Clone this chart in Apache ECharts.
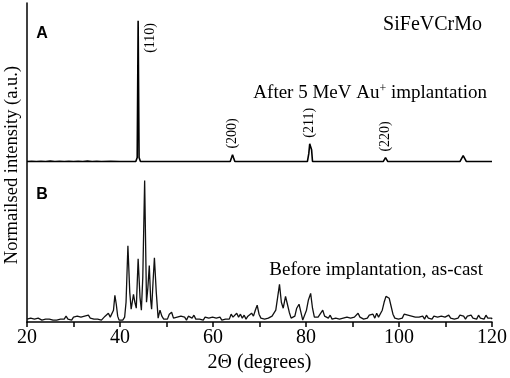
<!DOCTYPE html>
<html>
<head>
<meta charset="utf-8">
<script src="https://cdn.jsdelivr.net/npm/echarts@6/dist/echarts.min.js"></script>
<style>
  html, body { margin: 0; padding: 0; background: #fff; }
  #chart { width: 510px; height: 378px; }
</style>
</head>
<body>
<div id="chart"></div>
<script>
// 2Θ range and ticks
const xMin = 20
const xMax = 120
const xTickStep = 10
const xLabelStep = 20

// vertical shift of trace A above trace B (same a.u. as the traces)
const offsetA = 162
const yMax = 322

// Trace A: after 5 MeV Au+ implantation [2Θ, intensity]
const traceA = [
  [20, 0], [21, 0.3], [22, 0], [23, 0.3], [24, 0], [25, 0.4], [26, 0], [27, 0.3], [28, 0],
  [29, 0.3], [30, 0], [31, 0.3], [32, 0], [33, 0.4], [34, 0], [35, 0.3], [36, 0], [38, 0.3],
  [40, 0], [42, 0], [43.4, 0], [43.7, 4], [43.9, 142], [44.1, 4], [44.4, 0], [47.1, 0],
  [47.4, 1.2], [47.8, 0], [63.7, 0], [64.0, 4], [64.2, 7], [64.4, 4], [64.7, 0],
  [80.3, 0], [80.6, 8], [80.8, 18], [81.0, 15], [81.2, 12], [81.4, 0], [96.6, 0],
  [97.1, 4], [97.6, 0], [108.8, 0], [109.0, 1], [109.2, 0], [113.1, 0], [113.8, 6],
  [114.5, 0], [120, 0]
]

// Trace B: before implantation, as-cast [2Θ, intensity]
const traceB = [
  [20, 3], [20.4, 2], [20.8, 4], [21.2, 2], [21.6, 3], [22, 2], [22.4, 4], [22.8, 3], [23.2, 2],
  [23.6, 4], [24, 3], [24.4, 2], [24.8, 3], [25.2, 4], [25.6, 2], [26, 3], [26.4, 2], [26.8, 4],
  [27.2, 3], [27.6, 5], [28, 3], [28.4, 6], [28.8, 3], [29.2, 4], [29.6, 2], [30, 5], [30.4, 3],
  [30.8, 6], [31.2, 4], [31.6, 5], [32, 3], [32.4, 6], [32.8, 4], [33.2, 7], [33.6, 4], [34, 6],
  [34.4, 3], [34.8, 5], [35.2, 3], [35.6, 4], [36, 2], [36.4, 4], [36.8, 6], [37.2, 4], [37.5, 9],
  [37.9, 5], [38.3, 3], [38.6, 12], [38.9, 27], [39.2, 18], [39.5, 6], [39.8, 2], [40.2, 4],
  [40.6, 2], [41, 5], [41.3, 20], [41.7, 77], [42.1, 30], [42.4, 13], [42.7, 22], [42.9, 28],
  [43.2, 20], [43.5, 14], [43.9, 64], [44.3, 25], [44.6, 12], [44.9, 45], [45.3, 143], [45.7, 20],
  [46.0, 35], [46.3, 57], [46.6, 22], [46.8, 13], [47.1, 40], [47.4, 65], [47.8, 30], [48.2, 4],
  [48.6, 12], [49, 6], [49.4, 3], [49.8, 5], [50.2, 3], [50.6, 8], [51.1, 10], [51.5, 4], [51.9, 2],
  [52.3, 5], [52.7, 3], [53.1, 6], [53.5, 4], [53.9, 5], [54.3, 2], [54.7, 6], [55.1, 8], [55.5, 4],
  [55.9, 7], [56.3, 3], [56.7, 5], [57.1, 3], [57.5, 4], [57.9, 2], [58.3, 5], [58.7, 3], [59.1, 4],
  [59.5, 2], [59.9, 5], [60.3, 3], [60.7, 4], [61.1, 3], [61.5, 5], [61.9, 2], [62.3, 4], [62.7, 3],
  [63.1, 5], [63.5, 3], [63.9, 8], [64.3, 5], [64.7, 4], [65.1, 9], [65.5, 5], [65.9, 8], [66.3, 4],
  [66.7, 7], [67.1, 3], [67.5, 6], [67.9, 4], [68.3, 9], [68.7, 6], [69.1, 12], [69.5, 17], [69.9, 8],
  [70.3, 4], [70.7, 6], [71.1, 3], [71.5, 5], [71.9, 4], [72.3, 3], [72.7, 6], [73.1, 4], [73.5, 12],
  [73.9, 25], [74.3, 38], [74.7, 20], [75.1, 14], [75.6, 26], [76.0, 18], [76.4, 10], [76.8, 4],
  [77.2, 2], [77.6, 6], [78.0, 14], [78.5, 18], [78.9, 10], [79.3, 2], [79.7, 3], [80.1, 12],
  [80.5, 22], [81.0, 29], [81.4, 14], [81.8, 5], [82.2, 3], [82.6, 5], [83.0, 4], [83.6, 12],
  [84.0, 6], [84.4, 8], [84.8, 4], [85.2, 7], [85.6, 3], [86, 5], [86.4, 4], [86.8, 6], [87.2, 3],
  [87.6, 5], [88, 4], [88.4, 3], [88.8, 5], [89.2, 3], [89.6, 4], [90, 3], [90.4, 5], [90.8, 3],
  [91.2, 9], [91.6, 5], [92, 6], [92.4, 3], [92.8, 5], [93.2, 4], [93.6, 7], [94, 5], [94.4, 8],
  [94.8, 4], [95.2, 9], [95.6, 5], [96, 6], [96.4, 12], [96.8, 20], [97.2, 26], [97.5, 28],
  [97.9, 24], [98.3, 16], [98.7, 8], [99.1, 4], [99.5, 2], [99.9, 3], [100.3, 5], [100.7, 4],
  [101.1, 8], [101.5, 6], [101.9, 7], [102.3, 5], [102.7, 6], [103.1, 4], [103.5, 5], [103.9, 3],
  [104.3, 5], [104.7, 4], [105.1, 6], [105.5, 3], [105.9, 7], [106.3, 4], [106.7, 5], [107.1, 3],
  [107.5, 6], [107.9, 4], [108.3, 5], [108.7, 3], [109.1, 6], [109.5, 4], [109.9, 5], [110.3, 3],
  [110.7, 7], [111.1, 4], [111.5, 6], [111.9, 3], [112.3, 5], [112.7, 4], [113.1, 7], [113.5, 5],
  [113.9, 6], [114.3, 3], [114.7, 6], [115.1, 4], [115.5, 7], [115.9, 4], [116.3, 5], [116.7, 3],
  [117.1, 7], [117.5, 4], [117.9, 6], [118.3, 3], [118.7, 7], [119.1, 4], [119.5, 6], [119.9, 4],
  [120, 3]
]

// peak indices on trace A: name, 2Θ, peak height
const peakNames = ['(110)', '(200)', '(211)', '(220)']
const peakPos = [43.9, 64.2, 80.8, 97.1]
const peakHeight = [142, 7, 18, 4]

const serif = 'Liberation Serif'
const chart = echarts.init(document.getElementById('chart'))

chart.setOption({
  animation: false,
  grid: { left: 27, right: 18, top: 3, bottom: 53 },
  xAxis: {
    type: 'value',
    min: xMin,
    max: xMax,
    interval: xTickStep,
    name: '2Θ (degrees)',
    nameLocation: 'middle',
    nameGap: 27,
    nameTextStyle: { fontFamily: serif, fontSize: 20, color: '#000' },
    axisLine: { lineStyle: { color: '#000', width: 1.5 } },
    axisTick: { length: 5, lineStyle: { color: '#000', width: 1.5 } },
    axisLabel: {
      margin: 6,
      fontFamily: serif,
      fontSize: 20,
      color: '#000',
      formatter: (v) => (v % xLabelStep === 0 ? String(v) : '')
    },
    splitLine: { show: false }
  },
  yAxis: {
    type: 'value',
    min: 0,
    max: yMax,
    axisLine: { show: true, onZero: false, lineStyle: { color: '#000', width: 1.5 } },
    axisTick: { show: false },
    axisLabel: { show: false },
    splitLine: { show: false }
  },
  series: [
    {
      name: 'After 5 MeV Au+ implantation',
      type: 'line',
      data: traceA.map((d) => [d[0], d[1] + offsetA]),
      showSymbol: false,
      lineStyle: { color: '#000', width: 1.6 },
      z: 3
    },
    {
      name: 'Before implantation, as-cast',
      type: 'line',
      data: traceB,
      showSymbol: false,
      lineStyle: { color: '#111', width: 1.3 },
      z: 2
    }
  ]
})

// text annotations, peak labels placed from the axis scales
const graphics = [
  {
    type: 'text', x: 12, y: 165, rotation: Math.PI / 2,
    style: { text: 'Normailsed intensity (a.u.)', font: '18.5px "Liberation Serif"', fill: '#000', align: 'center', verticalAlign: 'middle' }
  },
  {
    type: 'text', x: 42, y: 34,
    style: { text: 'A', font: 'bold 16px "Liberation Sans"', fill: '#000', align: 'center', verticalAlign: 'middle' }
  },
  {
    type: 'text', x: 42, y: 195,
    style: { text: 'B', font: 'bold 16px "Liberation Sans"', fill: '#000', align: 'center', verticalAlign: 'middle' }
  },
  {
    type: 'text', x: 482, y: 25,
    style: { text: 'SiFeVCrMo', font: '20px "Liberation Serif"', fill: '#000', align: 'right', verticalAlign: 'middle' }
  },
  {
    type: 'text', x: 487, y: 93,
    style: {
      text: 'After 5 MeV Au{s|+} implantation',
      font: '19px "Liberation Serif"', fill: '#000', align: 'right', verticalAlign: 'middle',
      rich: { s: { fontSize: 12, fontFamily: serif, verticalAlign: 'top', padding: [0, 0, 8, 0] } }
    }
  },
  {
    type: 'text', x: 483, y: 270,
    style: { text: 'Before implantation, as-cast', font: '19px "Liberation Serif"', fill: '#000', align: 'right', verticalAlign: 'middle' }
  }
]

peakNames.forEach((name, i) => {
  const p = chart.convertToPixel({ gridIndex: 0 }, [peakPos[i], peakHeight[i] + offsetA])
  // the big (110) peak gets its label beside the peak, the others above
  const side = i === 0
  graphics.push({
    type: 'text',
    x: side ? p[0] + 12 : p[0],
    y: side ? p[1] + 32 : p[1] - 6,
    rotation: Math.PI / 2,
    style: { text: name, font: '14px "Liberation Serif"', fill: '#000', align: 'left', verticalAlign: 'middle' }
  })
})

chart.setOption({ graphic: graphics })
</script>
</body>
</html>
